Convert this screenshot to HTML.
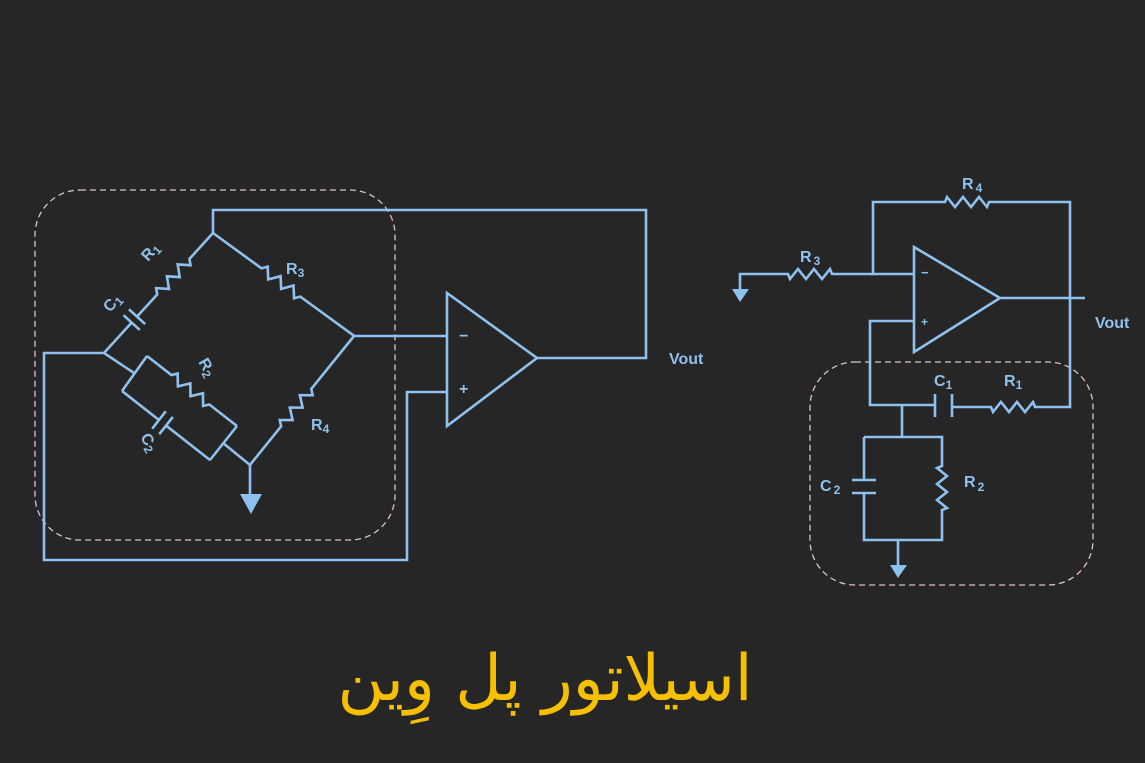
<!DOCTYPE html>
<html><head><meta charset="utf-8"><style>
html,body{margin:0;padding:0;background:#262626;}
body{width:1145px;height:763px;overflow:hidden;position:relative;}
svg{position:absolute;left:0;top:0;}
.w{fill:none;stroke:#8ec1ee;stroke-width:2.6;stroke-linejoin:miter;}
.d{fill:none;stroke:#d9c3cc;stroke-width:1.3;stroke-dasharray:6 4;}
.t{fill:#8ec1ee;font-family:"Liberation Sans","DejaVu Sans",sans-serif;font-weight:bold;font-size:16px;}
.s{font-size:12px;}
.title{position:absolute;left:0;width:1090px;top:642px;text-align:center;color:#f6c000;font-family:"DejaVu Sans",sans-serif;font-size:64px;direction:rtl;}
</style></head><body>
<svg width="1145" height="763" viewBox="0 0 1145 763">
<rect class="d" x="35" y="190" width="360" height="350" rx="45"/>
<g transform="translate(213,233) rotate(132.25)">
<path class="w" d="M0,0 H35 l4,-5 l8,10 l8,-10 l8,10 l8,-10 l8,10 l4,-5 H113 M113,-11 V11 M121,-11 V11 M121,0 H162"/>
</g>
<g transform="translate(213,233) rotate(36.1)">
<path class="w" d="M0,0 H60 l4,-5 l8,10 l8,-10 l8,10 l8,-10 l8,10 l4,-5 H175"/>
</g>
<g transform="translate(354,336) rotate(128.9)">
<path class="w" d="M0,0 H68 l4,-5 l8,10 l8,-10 l8,10 l8,-10 l8,10 l4,-5 H166"/>
</g>
<path class="w" d="M104,353 L134,373 M147,356 L122,391 M237,426 L210,460 M223,443 L250,465"/>
<g transform="translate(147,356) rotate(37.9)">
<path class="w" d="M0,0 H31 l4,-5 l8,10 l8,-10 l8,10 l8,-10 l8,10 l4,-5 H114"/>
</g>
<g transform="translate(122,391) rotate(38.1)">
<path class="w" d="M0,0 H47 M47,-11 V11 M56,-11 V11 M56,0 H112"/>
</g>
<path class="w" d="M213,233 V210 H646 V358 H537"/>
<path class="w" d="M354,336 H447"/>
<path class="w" d="M104,353 H44 V560 H407 V392 H447"/>
<path class="w" d="M250,465 V496"/>
<path d="M240,494 H262 L251,514 Z" fill="#8ec1ee"/>
<path class="w" d="M447,293 V426 L537,358 Z"/>
<text class="t" x="459" y="341">−</text>
<text class="t" x="459" y="394">+</text>
<text class="t" x="669" y="364">Vout</text>
<g class="t">
<text transform="translate(148,262) rotate(-48)">R<tspan class="s" dy="3">1</tspan></text>
<text transform="translate(110,313) rotate(-48)">C<tspan class="s" dy="3">1</tspan></text>
<text transform="translate(286,274)">R<tspan class="s" dy="3">3</tspan></text>
<text transform="translate(311,430)">R<tspan class="s" dy="3">4</tspan></text>
<text transform="translate(198,362) rotate(60)">R<tspan class="s" dy="3">2</tspan></text>
<text transform="translate(140,437) rotate(60)">C<tspan class="s" dy="3">2</tspan></text>
</g>
<rect class="d" x="810" y="362" width="283" height="223" rx="45"/>
<path class="w" d="M914,247 V352 L1000,298 Z"/>
<path class="w" d="M1000,298 H1085"/>
<path class="w" d="M914,274 H873 V202 H945 l2,-5 l8,10 l8,-10 l8,10 l8,-10 l8,10 l2,-5 H1070 V407 H1035 l-2,-5 l-8,10 l-8,-10 l-8,10 l-8,-10 l-8,10 l-2,-5 H952 M952,394 V417 M935,394 V417 M935,405 H870 V321 H914"/>
<path class="w" d="M873,274 H832 l-2,-5 l-8,10 l-8,-10 l-8,10 l-8,-10 l-8,10 l-2,-5 H740 V290"/>
<path d="M732,289 H749 L740,302 Z" fill="#8ec1ee"/>
<path class="w" d="M902,405 V437 M864,437 H942 V466 l-5,2 l10,8 l-10,8 l10,8 l-10,8 l10,8 l-5,2 V540 H864 V493 M852,493 H876 M852,480 H876 M864,480 V437 M898,540 V566"/>
<path d="M890,565 H907 L898,578 Z" fill="#8ec1ee"/>
<text class="t" x="921" y="277" style="font-size:13px">−</text>
<text class="t" x="921" y="326" style="font-size:12px">+</text>
<text class="t" x="1095" y="328">Vout</text>
<g class="t">
<text x="962" y="189">R<tspan class="s" dx="2" dy="3">4</tspan></text>
<text x="800" y="262">R<tspan class="s" dx="2" dy="3">3</tspan></text>
<text x="934" y="386">C<tspan class="s" dy="3">1</tspan></text>
<text x="1004" y="386">R<tspan class="s" dy="3">1</tspan></text>
<text x="820" y="491">C<tspan class="s" dx="2" dy="3">2</tspan></text>
<text x="964" y="487">R<tspan class="s" dx="2" dy="4">2</tspan></text>
</g>
</svg>
<div class="title">اسیلاتور پل وِین</div>
</body></html>
